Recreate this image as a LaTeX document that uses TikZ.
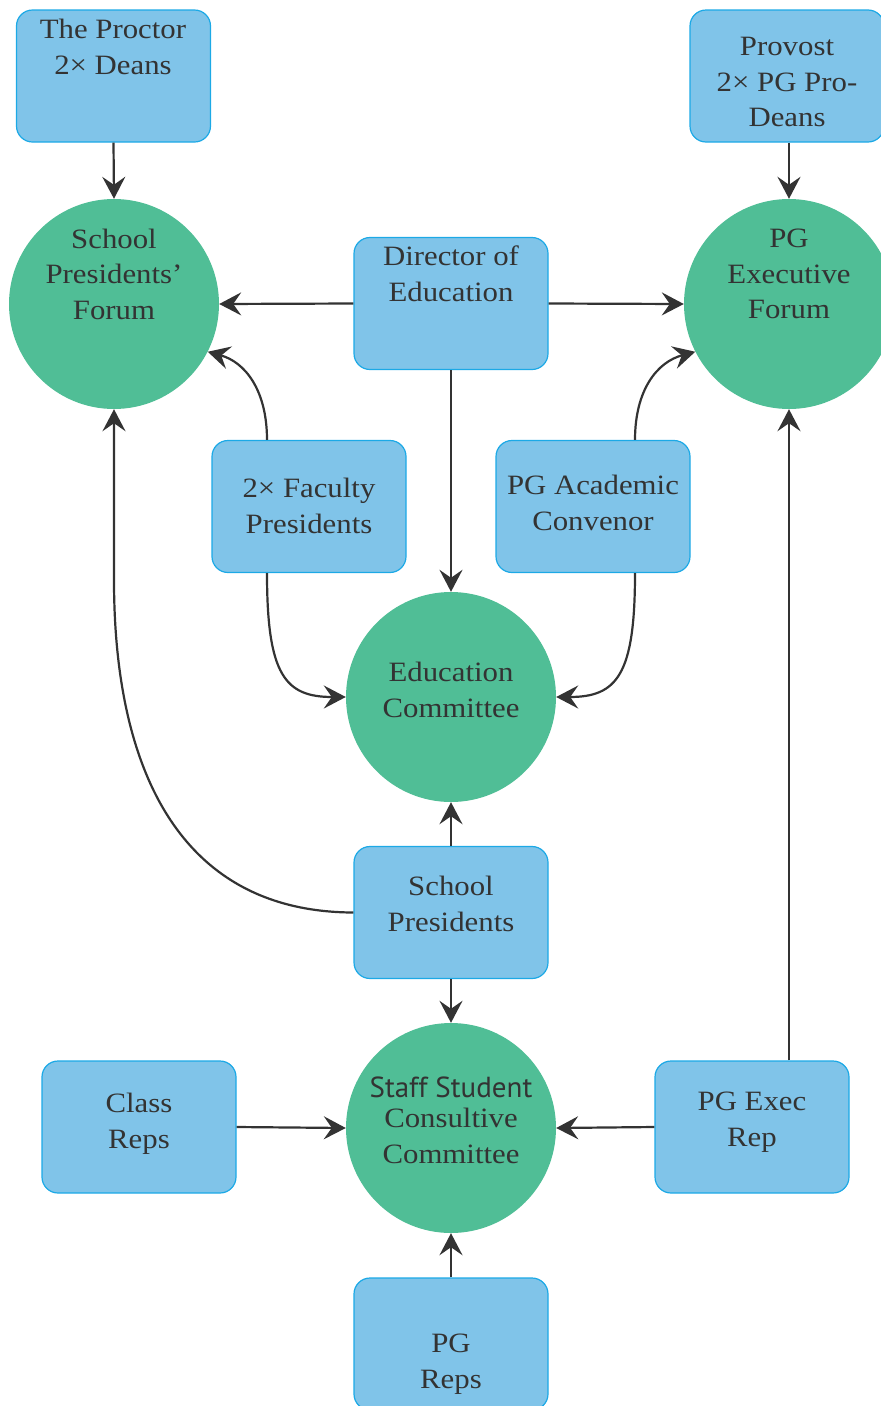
\documentclass[tikz,border=0pt]{standalone}
\usepackage{fontspec}
\setmainfont{Liberation Serif}[FakeStretch=1.1]
\newfontfamily\ssfont{PT Sans}
\usetikzlibrary{arrows.meta}
\definecolor{boxfill}{HTML}{80C4E9}
\definecolor{boxline}{HTML}{1CA9E6}
\definecolor{circfill}{HTML}{50BE96}
\definecolor{ink}{HTML}{333333}
\begin{document}
\begin{tikzpicture}[x=1pt,y=-1pt,
  boxnode/.style={draw=boxline, fill=boxfill, line width=1.2pt, rounded corners=16pt, minimum width=194pt, minimum height=132pt, inner sep=0pt},
  circnode/.style={circle, fill=circfill, minimum size=210pt, inner sep=0pt},
  lbl/.style={text=ink, align=center, font=\fontsize{28}{35.5}\selectfont, inner sep=0pt},
  sslbl/.style={text=ink, align=center, font=\ssfont\fontsize{29}{35}\selectfont, inner sep=0pt},
  conn/.style={draw=ink, line width=2.2pt, -{Stealth[length=22pt,width=23pt,inset=8pt]}}]
\useasboundingbox (0,0) rectangle (881,1406);

\node[boxnode] (proctor) at (113.5,76) {};
\node[lbl] (proctorT) at (113,47) {The Proctor\\2× Deans};
\node[boxnode] (provost) at (787,76) {};
\node[lbl] (provostT) at (787,82) {Provost\\2× PG Pro-\\Deans};
\node[circnode] (spf) at (114,304) {};
\node[lbl] (spfT) at (114,274) {School\\Presidents’\\Forum};
\node[circnode] (pgef) at (789,304) {};
\node[lbl] (pgefT) at (789,274) {PG\\Executive\\Forum};
\node[boxnode] (doe) at (451,303.5) {};
\node[lbl] (doeT) at (451,274) {Director of\\Education};
\node[boxnode] (fac) at (309,506.5) {};
\node[lbl] (facT) at (309,506) {2× Faculty\\Presidents};
\node[boxnode] (pgac) at (593,506.5) {};
\node[lbl] (pgacT) at (593,503) {PG Academic\\Convenor};
\node[circnode] (edc) at (451,697) {};
\node[lbl] (edcT) at (451,690) {Education\\Committee};
\node[boxnode] (schp) at (451,912.5) {};
\node[lbl] (schpT) at (451,904) {School\\Presidents};
\node[circnode] (sscc) at (451,1128) {};
\node[sslbl] (ssccA) at (451,1087) {Staff Student};
\node[lbl] (ssccB) at (451,1136) {Consultive\\Committee};
\node[boxnode] (class) at (139,1127) {};
\node[lbl] (classT) at (139,1124) {Class\\Reps};
\node[boxnode] (pgexec) at (752,1127) {};
\node[lbl] (pgexecT) at (752,1122) {PG Exec\\Rep};
\node[boxnode] (pgreps) at (451,1344) {};
\node[lbl] (pgrepsT) at (451,1364) {PG\\Reps};

\draw[conn] (proctor.south) -- (spf.north);
\draw[conn] (pgef.north |- provost.south) -- (pgef.north);
\draw[conn] (doe.west) -- (spf.east);
\draw[conn] (doe.east) -- (pgef.west);
\draw[conn] (doe.south) -- (edc.north);
\draw[conn] ([xshift=-42pt]fac.north) .. controls (267,390) and (245,362) .. (spf.-27);
\draw[conn] ([xshift=-42pt]fac.south) .. controls (267,675) and (285,697) .. (edc.west);
\draw[conn] ([xshift=42pt]pgac.north) .. controls (635,390) and (657,362) .. (pgef.-153);
\draw[conn] ([xshift=42pt]pgac.south) .. controls (635,675) and (617,697) .. (edc.east);
\draw[conn] (schp.north) -- (edc.south);
\draw[conn] (schp.west) .. controls (180,912) and (114,770) .. (114,580) -- (spf.south);
\draw[conn] (schp.south) -- (sscc.north);
\draw[conn] (class.east) -- (sscc.west);
\draw[conn] (pgexec.west) -- (sscc.east);
\draw[conn] (pgef.south |- pgexec.north) -- (pgef.south);
\draw[conn] (pgreps.north) -- (sscc.south);
\end{tikzpicture}
\end{document}
